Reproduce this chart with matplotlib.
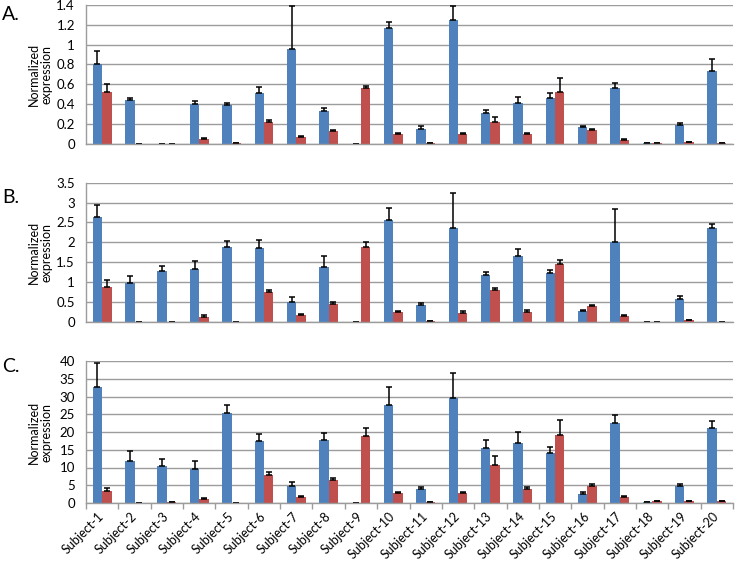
import numpy as np
import matplotlib
matplotlib.use("Agg")
import matplotlib.pyplot as plt
from matplotlib.ticker import FixedLocator

plt.rcParams['font.family'] = ['Lato', 'DejaVu Sans']

subjects = [f"Subject-{i}" for i in range(1, 21)]

# Panel A
a_blue = [0.80, 0.44, 0.0, 0.40, 0.39, 0.51, 0.96, 0.33, 0.0, 1.17,
          0.145, 1.25, 0.31, 0.41, 0.46, 0.17, 0.565, 0.003, 0.19, 0.735]
a_blue_err = [0.14, 0.02, 0.0, 0.03, 0.02, 0.06, 0.43, 0.03, 0.0, 0.06,
              0.035, 0.14, 0.035, 0.06, 0.055, 0.01, 0.05, 0.0, 0.015, 0.115]
a_red = [0.52, 0.002, 0.0, 0.047, 0.003, 0.22, 0.07, 0.125, 0.56, 0.098,
         0.01, 0.094, 0.22, 0.098, 0.52, 0.135, 0.04, 0.003, 0.013, 0.003]
a_red_err = [0.08, 0.0, 0.0, 0.01, 0.0, 0.015, 0.008, 0.01, 0.02, 0.015,
             0.002, 0.012, 0.05, 0.006, 0.14, 0.015, 0.004, 0.0, 0.002, 0.0]

# Panel B
b_blue = [2.63, 0.965, 1.276, 1.32, 1.87, 1.855, 0.495, 1.37, 0.0, 2.55,
          0.41, 2.35, 1.167, 1.65, 1.225, 0.277, 2.0, 0.005, 0.58, 2.35]
b_blue_err = [0.30, 0.19, 0.12, 0.22, 0.17, 0.21, 0.115, 0.275, 0.0, 0.31,
              0.07, 0.90, 0.083, 0.18, 0.075, 0.017, 0.83, 0.0, 0.066, 0.11]
b_red = [0.873, 0.005, 0.005, 0.126, 0.005, 0.747, 0.176, 0.445, 1.87, 0.235,
         0.017, 0.227, 0.79, 0.25, 1.444, 0.394, 0.15, 0.005, 0.04, 0.005]
b_red_err = [0.167, 0.0, 0.0, 0.034, 0.0, 0.059, 0.009, 0.042, 0.14, 0.035,
             0.0, 0.043, 0.05, 0.035, 0.10, 0.026, 0.018, 0.0, 0.01, 0.0]

# Panel C
c_blue = [32.8, 11.8, 10.3, 9.5, 25.4, 17.56, 4.9, 17.8, 0.0, 27.6,
          3.85, 29.6, 15.5, 16.9, 14.1, 2.6, 22.6, 0.28, 4.7, 21.2]
c_blue_err = [6.5, 2.75, 2.0, 2.4, 2.3, 1.94, 1.1, 1.8, 0.0, 5.0,
              0.55, 6.9, 2.15, 3.2, 1.6, 0.4, 2.2, 0.05, 0.65, 1.9]
c_red = [3.38, 0.1, 0.2, 1.1, 0.05, 8.0, 1.8, 6.4, 18.9, 2.7,
         0.28, 2.7, 10.6, 4.0, 19.25, 4.7, 1.8, 0.47, 0.56, 0.47]
c_red_err = [0.72, 0.0, 0.05, 0.4, 0.0, 0.6, 0.1, 0.6, 2.3, 0.5,
             0.05, 0.4, 2.6, 0.4, 4.05, 0.7, 0.17, 0.05, 0.08, 0.05]

panel_labels = ["A.", "B.", "C."]
y_ticks = [np.arange(0, 1.41, 0.2), np.arange(0, 3.51, 0.5), np.arange(0, 40.1, 5)]
y_max = [1.4, 3.5, 40]

BLUE = "#4F81BD"
RED = "#C0504D"
GRID = "#9c9c9c"

fig = plt.figure(figsize=(7.36, 5.63), dpi=100)

# axes rectangles in figure fraction: left, bottom, width, height
rects = [
    (86/736, 1 - 143.7/563, 647/736, 138.7/563),
    (86/736, 1 - 321.7/563, 647/736, 139.0/563),
    (86/736, 1 - 503.0/563, 647/736, 142.0/563),
]
label_y = [14, 197.5, 367]

data = [
    (a_blue, a_blue_err, a_red, a_red_err),
    (b_blue, b_blue_err, b_red, b_red_err),
    (c_blue, c_blue_err, c_red, c_red_err),
]

x = np.arange(len(subjects))
w = 0.29

for i, (rect, (bv, be, rv, re)) in enumerate(zip(rects, data)):
    ax = fig.add_axes(rect)
    ax.bar(x - w/2, bv, w, color=BLUE, zorder=3)
    ax.bar(x + w/2, rv, w, color=RED, zorder=3)
    ax.errorbar(x - w/2, bv, yerr=[np.zeros(len(be)), be], fmt='none',
                ecolor='black', elinewidth=1.1, capsize=2.5, capthick=1.1, zorder=4)
    ax.errorbar(x + w/2, rv, yerr=[np.zeros(len(re)), re], fmt='none',
                ecolor='black', elinewidth=1.1, capsize=2.5, capthick=1.1, zorder=4)
    ax.set_xlim(-0.5, len(subjects) - 0.5)
    ax.set_ylim(0, y_max[i])
    ax.set_yticks(y_ticks[i])
    ax.set_yticklabels([f"{v:g}" for v in y_ticks[i]], fontsize=9.5)
    ax.tick_params(axis='y', length=0, pad=8)
    ax.grid(axis='y', color=GRID, linewidth=1.0, zorder=0)
    ax.set_axisbelow(True)
    for s in ['top', 'right']:
        ax.spines[s].set_visible(False)
    ax.spines['left'].set_color(GRID)
    ax.spines['bottom'].set_color(GRID)
    ax.spines['left'].set_linewidth(1.0)
    ax.spines['bottom'].set_linewidth(1.0)
    ax.spines['bottom'].set_zorder(5)
    ax.set_ylabel("Normalized\nexpression", fontsize=9, linespacing=1.0)
    ax.yaxis.set_label_coords(-0.052, 0.5)
    if i < 2:
        ax.set_xticks([])
    else:
        ax.set_xticks(x)
        ax.set_xticklabels(subjects, rotation=45, ha='right', va='center',
                           rotation_mode='anchor', fontsize=9)
        ax.tick_params(axis='x', which='major', length=0, pad=8)
        ax.xaxis.set_minor_locator(FixedLocator(np.arange(-0.5, len(subjects), 1.0)))
        ax.tick_params(axis='x', which='minor', length=4, color=GRID, width=1.0)
    fig.text(2/736, 1 - label_y[i]/563, panel_labels[i], fontsize=14,
             ha='left', va='center')

fig.savefig("out.png", dpi=100)
